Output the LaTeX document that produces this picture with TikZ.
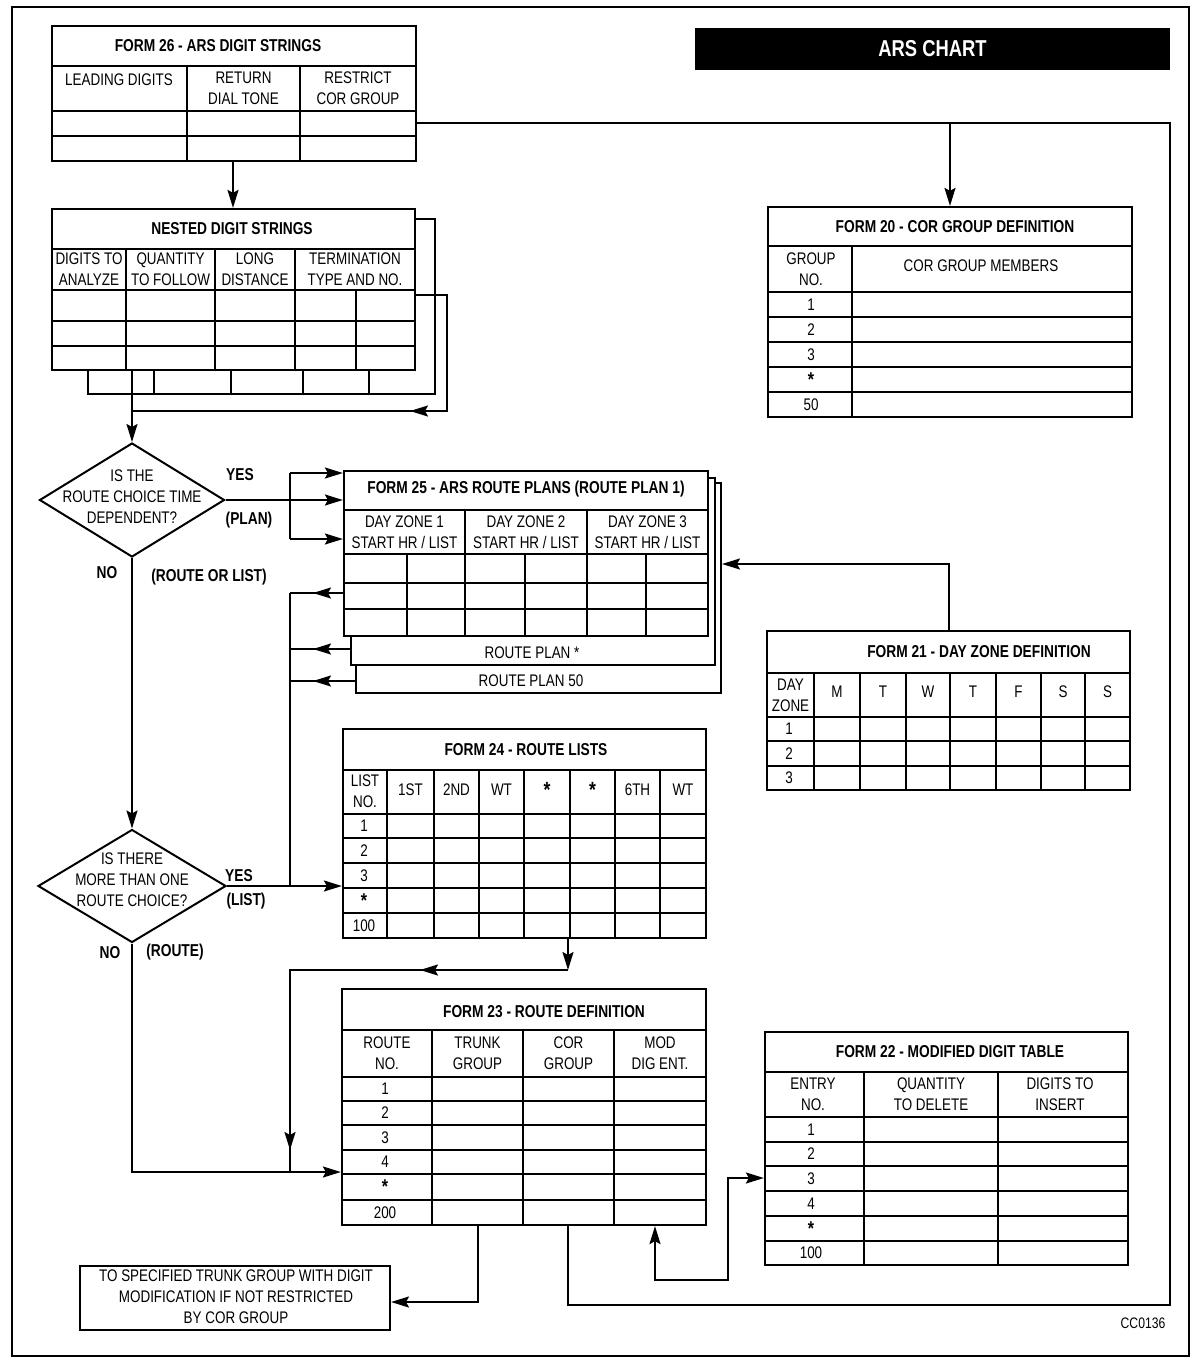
\documentclass[tikz,border=0pt]{standalone}
\usepackage{fontspec}
\newfontfamily\narrow[FakeStretch=0.8]{Liberation Sans}
\usetikzlibrary{arrows.meta,shapes.geometric,fit}

% centred asterisks for table rows and headers
\newcommand\stc{{\bfseries\fontsize{10}{10}\selectfont\raisebox{-0.7ex}{*}}}
\newcommand\bigstc{{\fontsize{11}{11}\selectfont\raisebox{-0.75ex}{*}}}

\tikzset{
  formbox/.style={draw, line width=1.1pt, inner sep=0pt, fill=white},
  sheetbox/.style={draw, line width=1pt, inner sep=0pt, fill=white},
  rule/.style={line width=0.8pt},
  cell/.style={font=\narrow\fontsize{8.4}{10.5}\selectfont, align=center, inner sep=0pt},
  heading/.style={font=\narrow\bfseries\fontsize{8.6}{10.5}\selectfont, inner sep=0pt},
  tag/.style={font=\narrow\bfseries\fontsize{8.6}{10.5}\selectfont, inner sep=0pt},
  wire/.style={line width=1pt},
  tip/.style={wire, -{Stealth[length=9pt,width=5.5pt,inset=1.5pt]}},
  decision/.style={diamond, draw, line width=1pt, inner sep=0pt},
}

\begin{document}
\begin{tikzpicture}[x=0.5pt,y=-0.5pt]
\useasboundingbox (0,0) rectangle (1192,1362);

% outer frame
\node[draw, line width=1pt, inner sep=0pt, fit={(12,7) (1189,1356)}] (frame) {};

% banner
\node[fill=black, text=white, inner sep=0pt, minimum width=237.5pt, minimum height=21pt,
      font=\narrow\bfseries\fontsize{11.5}{12}\selectfont] (banner) at (932.5,49) {ARS CHART};

% ---------------- FORM 26 ----------------
\node[formbox, fit={(52,26) (416,161)}] (f26) {};
\draw[rule] (52,66) -- (416,66) (52,111) -- (416,111) (52,136) -- (416,136)
            (187,66) -- (187,161) (300,66) -- (300,161);
\node[heading] (f26t) at (218,46) {FORM 26 - ARS DIGIT STRINGS};
\node[cell] (f26a) at (119,80) {LEADING DIGITS};
\node[cell] (f26b) at (243.5,88.5) {RETURN\\DIAL TONE};
\node[cell] (f26c) at (358,88.5) {RESTRICT\\COR GROUP};

% ---------------- NESTED DIGIT STRINGS ----------------
\node[sheetbox, fit={(88,219) (435,394)}] (nestback) {};
\draw[rule] (154,370) -- (154,394) (231,370) -- (231,394) (303,370) -- (303,394) (369,370) -- (369,394);
\node[formbox, fit={(52,209) (415,370)}] (nest) {};
\draw[rule] (52,249) -- (415,249) (52,290) -- (415,290) (52,321) -- (415,321) (52,346) -- (415,346)
            (126,249) -- (126,370) (215,249) -- (215,370) (295,249) -- (295,370) (356,290) -- (356,370);
\node[heading] (nestt) at (232,229) {NESTED DIGIT STRINGS};
\node[cell] (nesta) at (89,269.5) {DIGITS TO\\ANALYZE};
\node[cell] (nestb) at (170.5,269.5) {QUANTITY\\TO FOLLOW};
\node[cell] (nestc) at (255,269.5) {LONG\\DISTANCE};
\node[cell] (nestd) at (355,269.5) {TERMINATION\\TYPE AND NO.};

% ---------------- DECISIONS ----------------
\node[decision, minimum width=92.5pt, minimum height=57pt] (d1) at (132,500) {};
\node[cell] (d1t) at (132,497) {IS THE\\ROUTE CHOICE TIME\\DEPENDENT?};
\node[tag] (d1yes) at (240,475) {YES};
\node[tag] (d1plan) at (249,520) {(PLAN)};
\node[tag] (d1no) at (107,573) {NO};
\node[tag] (d1rl) at (209,577) {(ROUTE OR LIST)};

\node[decision, minimum width=94pt, minimum height=56.5pt] (d2) at (132,886) {};
\node[cell] (d2t) at (132,880) {IS THERE\\MORE THAN ONE\\ROUTE CHOICE?};
\node[tag] (d2yes) at (239,876) {YES};
\node[tag] (d2list) at (246,901) {(LIST)};
\node[tag] (d2no) at (110,953) {NO};
\node[tag] (d2route) at (175,952) {(ROUTE)};

% ---------------- FORM 25 ----------------
\node[sheetbox, fit={(356,483) (721,693)}] (rp50) {};
\node[cell] (rp50t) at (531,681) {ROUTE PLAN 50};
\node[sheetbox, fit={(351,478) (715,665)}] (rpstar) {};
\node[cell] (rpstart) at (532,653) {ROUTE PLAN *};
\node[formbox, fit={(344,471) (708,636)}] (f25) {};
\draw[rule] (344,510) -- (708,510) (344,554) -- (708,554) (344,583) -- (708,583) (344,609) -- (708,609)
            (465,510) -- (465,636) (587,510) -- (587,636)
            (407,554) -- (407,636) (525,554) -- (525,636) (646,554) -- (646,636);
\node[heading] (f25t) at (526,489) {FORM 25 - ARS ROUTE PLANS (ROUTE PLAN 1)};
\node[cell] (f25a) at (404.5,532) {DAY ZONE 1\\START HR / LIST};
\node[cell] (f25b) at (526,532) {DAY ZONE 2\\START HR / LIST};
\node[cell] (f25c) at (647.5,532) {DAY ZONE 3\\START HR / LIST};

% ---------------- FORM 20 ----------------
\node[formbox, fit={(768,207) (1132,417)}] (f20) {};
\draw[rule] (768,246) -- (1132,246) (768,292) -- (1132,292) (768,317) -- (1132,317)
            (768,342) -- (1132,342) (768,367) -- (1132,367) (768,392) -- (1132,392)
            (852,246) -- (852,417);
\node[heading] (f20t) at (955,227) {FORM 20 - COR GROUP DEFINITION};
\node[cell] (f20a) at (811,269) {GROUP\\NO.};
\node[cell] (f20b) at (981,266) {COR GROUP MEMBERS};
\node[cell] (f20r1) at (811,304.5) {1};
\node[cell] (f20r2) at (811,329.5) {2};
\node[cell] (f20r3) at (811,354.5) {3};
\node[cell] (f20r4) at (811,379.5) {\stc};
\node[cell] (f20r5) at (811,404.5) {50};

% ---------------- FORM 21 ----------------
\node[formbox, fit={(767,631) (1130,790)}] (f21) {};
\draw[rule] (767,673) -- (1130,673) (767,717) -- (1130,717) (767,741) -- (1130,741) (767,766) -- (1130,766);
\foreach \cx in {814,860,906,950,996,1041,1085} \draw[rule] (\cx,673) -- (\cx,790);
\node[heading] (f21t) at (979,652) {FORM 21 - DAY ZONE DEFINITION};
\node[cell] (f21a) at (790.5,695) {DAY\\ZONE};
\node[cell] (f21m) at (837,692) {M};
\node[cell] (f21tu) at (883,692) {T};
\node[cell] (f21w) at (928,692) {W};
\node[cell] (f21th) at (973,692) {T};
\node[cell] (f21f) at (1018.5,692) {F};
\node[cell] (f21sa) at (1063,692) {S};
\node[cell] (f21su) at (1107.5,692) {S};
\node[cell] (f21r1) at (789,729) {1};
\node[cell] (f21r2) at (789,753.5) {2};
\node[cell] (f21r3) at (789,778) {3};

% ---------------- FORM 24 ----------------
\node[formbox, fit={(343,729) (706,938)}] (f24) {};
\draw[rule] (343,770) -- (706,770) (343,814) -- (706,814) (343,838) -- (706,838)
            (343,863) -- (706,863) (343,888) -- (706,888) (343,913) -- (706,913);
\foreach \cx in {387,434,479,524,570,615,660} \draw[rule] (\cx,770) -- (\cx,938);
\node[heading] (f24t) at (526,750) {FORM 24 - ROUTE LISTS};
\node[cell] (f24a) at (365,791) {LIST\\NO.};
\node[cell] (f24b) at (410.5,790) {1ST};
\node[cell] (f24c) at (456.5,790) {2ND};
\node[cell] (f24d) at (501.5,790) {WT};
\node[cell] (f24e) at (547,790) {\bfseries\bigstc};
\node[cell] (f24f) at (592.5,790) {\bfseries\bigstc};
\node[cell] (f24g) at (637.5,790) {6TH};
\node[cell] (f24h) at (683,790) {WT};
\node[cell] (f24r1) at (364,826) {1};
\node[cell] (f24r2) at (364,850.5) {2};
\node[cell] (f24r3) at (364,875.5) {3};
\node[cell] (f24r4) at (364,900.5) {\stc};
\node[cell] (f24r5) at (364,925.5) {100};

% ---------------- FORM 23 ----------------
\node[formbox, fit={(342,989) (706,1225)}] (f23) {};
\draw[rule] (342,1030) -- (706,1030) (342,1077) -- (706,1077) (342,1101) -- (706,1101)
            (342,1125) -- (706,1125) (342,1150) -- (706,1150) (342,1174) -- (706,1174) (342,1200) -- (706,1200)
            (432,1030) -- (432,1225) (523,1030) -- (523,1225) (614,1030) -- (614,1225);
\node[heading] (f23t) at (544,1012) {FORM 23 - ROUTE DEFINITION};
\node[cell] (f23a) at (387,1053.5) {ROUTE\\NO.};
\node[cell] (f23b) at (477.5,1053.5) {TRUNK\\GROUP};
\node[cell] (f23c) at (568.5,1053.5) {COR\\GROUP};
\node[cell] (f23d) at (660,1053.5) {MOD\\DIG ENT.};
\node[cell] (f23r1) at (385,1089) {1};
\node[cell] (f23r2) at (385,1113) {2};
\node[cell] (f23r3) at (385,1137.5) {3};
\node[cell] (f23r4) at (385,1162) {4};
\node[cell] (f23r5) at (385,1187) {\stc};
\node[cell] (f23r6) at (385,1212.5) {200};

% ---------------- FORM 22 ----------------
\node[formbox, fit={(765,1032) (1128,1265)}] (f22) {};
\draw[rule] (765,1072) -- (1128,1072) (765,1117) -- (1128,1117) (765,1142) -- (1128,1142)
            (765,1166) -- (1128,1166) (765,1191) -- (1128,1191) (765,1216) -- (1128,1216) (765,1241) -- (1128,1241)
            (864,1072) -- (864,1265) (998,1072) -- (998,1265);
\node[heading] (f22t) at (950,1052) {FORM 22 - MODIFIED DIGIT TABLE};
\node[cell] (f22a) at (813,1094.5) {ENTRY\\NO.};
\node[cell] (f22b) at (931,1094.5) {QUANTITY\\TO DELETE};
\node[cell] (f22c) at (1060,1094.5) {DIGITS TO\\INSERT};
\node[cell] (f22r1) at (811,1129.5) {1};
\node[cell] (f22r2) at (811,1154) {2};
\node[cell] (f22r3) at (811,1178.5) {3};
\node[cell] (f22r4) at (811,1203.5) {4};
\node[cell] (f22r5) at (811,1228.5) {\stc};
\node[cell] (f22r6) at (811,1253) {100};

% ---------------- outcome box ----------------
\node[draw, line width=1pt, inner sep=0pt, fit={(80,1266) (390,1330)}] (note) {};
\node[cell] (notet) at (236,1297) {TO SPECIFIED TRUNK GROUP WITH DIGIT\\MODIFICATION IF NOT RESTRICTED\\BY COR GROUP};

\node[font=\narrow\fontsize{7.6}{9}\selectfont, inner sep=0pt] (code) at (1143,1323) {CC0136};

% ---------------- connectors ----------------
% digit strings to nested strings
\draw[tip] (f26.south -| 233,0) -- (nest.north -| 233,0);
% nested strings to first decision
\draw[tip] (nest.south -| d1.north) -- (d1.north);
% nesting loop
\coordinate (lpA) at (447,295);
\coordinate (lpB) at (447,411);
\draw[wire] (nest.east |- lpA) -- (lpA) -- (lpB) -- (d1.north |- lpB);
\draw[tip] (lpB) -- (410,411);

% first decision: yes -> route plans
\coordinate (jp) at (290,500);
\draw[wire] (d1.east) -- (jp);
\draw[wire] (jp |- 0,473) -- (jp |- 0,539);
\draw[tip] (jp |- 0,473) -- (f25.west |- 0,473);
\draw[tip] (jp) -- (f25.west |- jp);
\draw[tip] (jp |- 0,539) -- (f25.west |- 0,539);

% route plans back to route lists
\coordinate (jr) at (290,593);
\draw[wire] (f25.west |- jr) -- (jr);
\draw[tip] (f25.west |- jr) -- (313,593);
\draw[wire] (rpstar.west |- 0,649) -- (jr |- 0,649);
\draw[tip] (rpstar.west |- 0,649) -- (313,649);
\draw[wire] (rp50.west |- 0,681) -- (jr |- 0,681);
\draw[tip] (rp50.west |- 0,681) -- (313,681);
\draw[wire] (jr) -- (jr |- d2.east);

% first decision: no -> second decision
\draw[tip] (d1.south) -- (d2.north);
% second decision: yes -> route lists
\draw[tip] (d2.east) -- (f24.west |- d2.east);
% second decision: no -> route definition
\draw[tip] (d2.south) |- (f23.west |- 0,1172);

% route lists -> route definition
\coordinate (k1) at (568,970);
\coordinate (k2) at (290,970);
\draw[tip] (f24.south -| k1) -- (k1);
\draw[wire] (k1) -- (k2) -- (k2 |- 0,1172);
\draw[tip] (k1) -- (420,970);
\draw[tip] (k2) -- (290,1150);

% day zones -> route plans
\draw[tip] (f21.north) |- (rp50.east |- 0,564);

% route definition -> outcome
\draw[tip] (f23.south -| 478,0) |- (note.east |- 0,1302);

% COR group loop to form 20
\draw[wire] (f23.south -| 568,0) -- (568,1305) -- (1170,1305) -- (1170,123) -- (f26.east |- 0,123);
\draw[tip] (f20.north |- 0,123) -- (f20.north);

% modified digit entry link
\draw[wire, {Stealth[length=9pt,width=5.5pt,inset=1.5pt]}-{Stealth[length=9pt,width=5.5pt,inset=1.5pt]}]
  (f23.south -| 655,0) -- (655,1280) -- (728,1280) -- (728,1178) -- (f22.west |- 0,1178);

\end{tikzpicture}
\end{document}
